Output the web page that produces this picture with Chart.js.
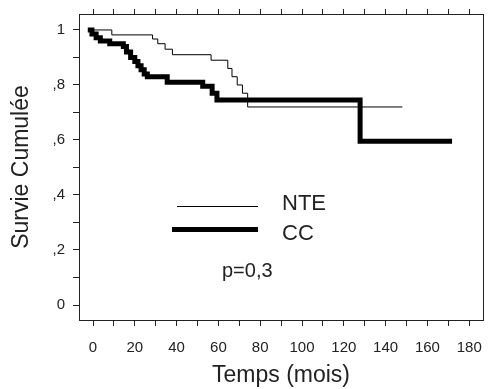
<!DOCTYPE html>
<html lang="fr">
<head>
<meta charset="UTF-8" />
<title>Survie Cumulée</title>
<script src="https://cdn.jsdelivr.net/npm/chart.js"></script>
<style>
  body { margin: 0; background: #fff; }
</style>
</head>
<body>
<canvas id="myChart" width="488" height="389"></canvas>
<script>
// Kaplan-Meier steps (months, cumulative survival)
const nteTimes = [-2, 9, 28.5, 31, 34.5, 38, 56.5, 64.5, 66.5, 69, 71.5, 74, 148];
const nteSurv = [1, 0.982, 0.967, 0.95, 0.93, 0.91, 0.89, 0.86, 0.83, 0.80, 0.77, 0.72, 0.72];

const ccTimes = [-2.5, -0.5, 1.5, 3.5, 8, 14.5, 16, 18, 20, 21.5, 23, 24.5, 26, 35.5, 52.5, 57, 59.3, 127.8, 171.8];
const ccSurv = [1, 0.985, 0.972, 0.96, 0.95, 0.94, 0.92, 0.90, 0.885, 0.87, 0.855, 0.84, 0.83, 0.81, 0.795, 0.77, 0.745, 0.595, 0.595];

const seriesLabels = ['NTE', 'CC'];
const pValueText = 'p=0,3';

const FONT = "'Liberation Sans', Arial, sans-serif";
const INK = '#222';

const toPoints = (xs, ys) => xs.map((x, i) => ({ x: x, y: ys[i] }));

// legend + p value sit inside the plot, like the original
const innerLegend = {
  id: 'innerLegend',
  afterDraw(chart) {
    const c = chart.ctx;
    c.save();
    c.strokeStyle = '#000';
    c.lineWidth = 1;
    c.beginPath();
    c.moveTo(177, 206.5);
    c.lineTo(258, 206.5);
    c.stroke();
    c.lineWidth = 5;
    c.beginPath();
    c.moveTo(172, 229.5);
    c.lineTo(258, 229.5);
    c.stroke();
    c.fillStyle = INK;
    c.font = '22px ' + FONT;
    c.textBaseline = 'middle';
    c.fillText(seriesLabels[0], 282, 204);
    c.fillText(seriesLabels[1], 282, 234);
    c.font = '20px ' + FONT;
    c.fillText(pValueText, 222, 271);
    c.restore();
  },
};

const ctx = document.getElementById('myChart').getContext('2d');
new Chart(ctx, {
  type: 'line',
  plugins: [innerLegend],
  data: {
    datasets: [
      {
        label: seriesLabels[0],
        data: toPoints(nteTimes, nteSurv),
        borderColor: '#000',
        borderWidth: 1,
        stepped: true,
        pointRadius: 0,
      },
      {
        label: seriesLabels[1],
        data: toPoints(ccTimes, ccSurv),
        borderColor: '#000',
        borderWidth: 5,
        stepped: true,
        pointRadius: 0,
      },
    ],
  },
  options: {
    responsive: false,
    animation: false,
    layout: { padding: 0 },
    plugins: {
      legend: { display: false },
      tooltip: { enabled: false },
    },
    scales: {
      x: {
        type: 'linear',
        position: 'bottom',
        min: -6.7,
        max: 186.6,
        afterFit: (s) => { s.height = 69; },
        border: { display: true, color: INK, width: 1 },
        grid: { drawOnChartArea: false, tickLength: 6, color: INK },
        ticks: {
          stepSize: 10,
          includeBounds: false,
          maxRotation: 0,
          autoSkip: false,
          padding: 2,
          color: INK,
          // tall line height pushes the labels down without widening the chart padding
          font: { family: FONT, size: 15, lineHeight: '39px' },
          callback: (v) => (Math.round(v) % 20 === 0 ? String(Math.round(v)) : ''),
        },
        title: {
          display: true,
          text: 'Temps (mois)',
          color: INK,
          font: { family: FONT, size: 23, lineHeight: 1 },
          padding: { top: 0, bottom: 1.5 },
        },
      },
      xTop: {
        type: 'linear',
        position: 'top',
        display: true,
        min: -6.7,
        max: 186.6,
        afterFit: (s) => { s.height = 14; },
        border: { display: true, color: INK, width: 1 },
        grid: { drawOnChartArea: false, tickLength: 5, color: INK },
        ticks: { display: false, stepSize: 10, includeBounds: false, autoSkip: false },
      },
      y: {
        type: 'linear',
        position: 'left',
        min: -0.0545,
        max: 1.058,
        afterFit: (s) => { s.width = 79; },
        border: { display: true, color: INK, width: 1 },
        grid: { drawOnChartArea: false, tickLength: 6, color: INK },
        ticks: {
          stepSize: 0.1,
          includeBounds: false,
          autoSkip: false,
          padding: 8,
          color: INK,
          font: { family: FONT, size: 15, lineHeight: 0.5 },
          callback: (v) => {
            const n = Math.round(v * 10);
            if (n % 2) return '';
            if (n === 0) return '0';
            if (n === 10) return '1';
            return ',' + n;
          },
        },
        title: {
          display: true,
          text: 'Survie Cumulée',
          color: INK,
          font: { family: FONT, size: 23, lineHeight: 1 },
          padding: { top: 10.5, bottom: 0 },
        },
      },
      yRight: {
        type: 'linear',
        position: 'right',
        display: true,
        min: -0.0545,
        max: 1.058,
        afterFit: (s) => { s.width = 5; },
        border: { display: true, color: INK, width: 1 },
        grid: { drawOnChartArea: false, drawTicks: false },
        ticks: { display: false },
      },
    },
  },
});
</script>
</body>
</html>
